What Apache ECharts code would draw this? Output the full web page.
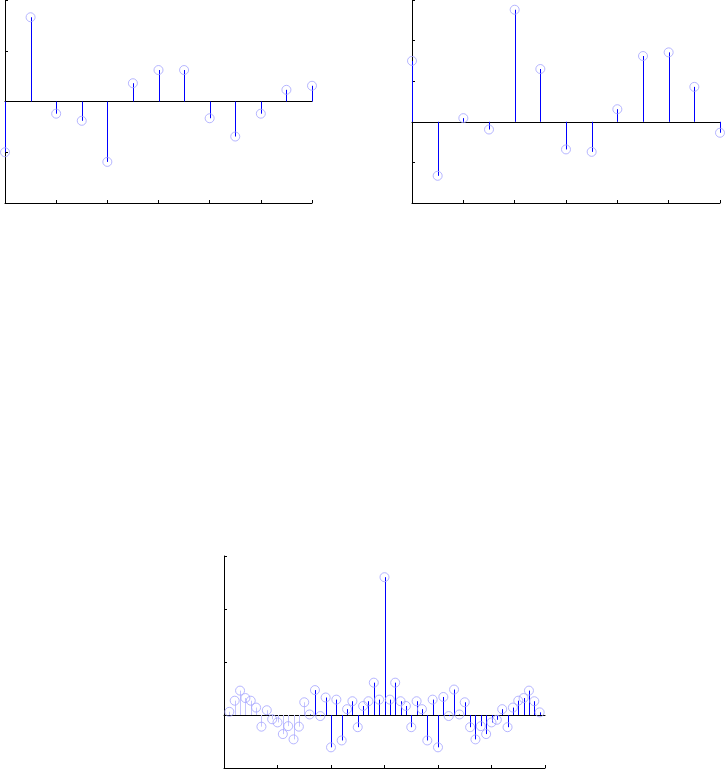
<!DOCTYPE html>
<html>
<head>
<meta charset="utf-8">
<script src="https://cdn.jsdelivr.net/npm/echarts@6/dist/echarts.min.js"></script>
<style>
  html, body { margin: 0; padding: 0; background: #fff; }
  #chart { width: 726px; height: 769px; }
</style>
</head>
<body>
<div id="chart"></div>
<script>
// top left: x[n]
var n1 = [0, 1, 2, 3, 4, 5, 6, 7, 8, 9, 10, 11, 12]
var xVals = [-1.0, 1.66, -0.24, -0.38, -1.19, 0.36, 0.62, 0.62, -0.33, -0.69, -0.24, 0.23, 0.31]

// top right: h[n]
var n2 = [0, 1, 2, 3, 4, 5, 6, 7, 8, 9, 10, 11, 12]
var hVals = [1.50, -1.33, 0.09, -0.19, 2.76, 1.30, -0.68, -0.74, 0.31, 1.62, 1.71, 0.86, -0.27]

// bottom: lags -29..29
var lags = [-29, -28, -27, -26, -25, -24, -23, -22, -21, -20, -19, -18, -17, -16, -15,
  -14, -13, -12, -11, -10, -9, -8, -7, -6, -5, -4, -3, -2, -1, 0,
  1, 2, 3, 4, 5, 6, 7, 8, 9, 10, 11, 12, 13, 14,
  15, 16, 17, 18, 19, 20, 21, 22, 23, 24, 25, 26, 27, 28, 29]
var rVals = [0.06, 0.27, 0.46, 0.32, 0.27, 0.14, -0.22, 0.09, -0.08, -0.14, -0.36, -0.21, -0.46, -0.22, 0.24,
  0.01, 0.47, -0.02, 0.33, -0.61, 0.29, -0.48, 0.11, 0.26, -0.23, 0.17, 0.26, 0.61, 0.29, 2.60,
  0.29, 0.61, 0.26, 0.17, -0.23, 0.26, 0.11, -0.48, 0.29, -0.61, 0.34, -0.02, 0.48, 0.01,
  0.24, -0.23, -0.46, -0.21, -0.36, -0.14, -0.09, 0.11, -0.23, 0.14, 0.27, 0.32, 0.46, 0.26, 0.05]

// axis ranges and tick steps
var xRange1 = [0, 12, 2]
var yRange1 = [-2, 2, 1]
var xRange2 = [0, 12, 2]
var yRange2 = [-2, 3, 1]
var xRange3 = [-30, 30, 10]
var yRange3 = [-1, 3, 1]

function pairs (xs, ys) {
  return xs.map(function (x, i) { return [x, ys[i]] })
}

var axisLineStyle = { color: '#000', width: 1 }

function bottomAxis (grid, r) {
  return {
    type: 'value', gridIndex: grid, min: r[0], max: r[1], interval: r[2],
    position: 'bottom',
    axisLine: { show: true, onZero: false, lineStyle: axisLineStyle },
    axisTick: { show: true, inside: true, length: 3, lineStyle: axisLineStyle },
    axisLabel: { show: false },
    splitLine: { show: false }
  }
}

// second x axis per grid, drawn on y = 0 as the base line
function zeroAxis (grid, r) {
  return {
    type: 'value', gridIndex: grid, min: r[0], max: r[1], interval: r[2],
    position: 'top',
    axisLine: { show: true, onZero: true, lineStyle: axisLineStyle },
    axisTick: { show: false },
    axisLabel: { show: false },
    splitLine: { show: false }
  }
}

function leftAxis (grid, r) {
  return {
    type: 'value', gridIndex: grid, min: r[0], max: r[1], interval: r[2],
    axisLine: { show: true, onZero: false, lineStyle: axisLineStyle },
    axisTick: { show: true, inside: true, length: 3, lineStyle: axisLineStyle },
    axisLabel: { show: false },
    splitLine: { show: false }
  }
}

function stems (grid, data, faintBelow) {
  return {
    type: 'custom',
    xAxisIndex: grid * 2,
    yAxisIndex: grid,
    z: 3,
    silent: true,
    data: data,
    renderItem: function (params, api) {
      var x = api.value(0)
      var top = api.coord([x, api.value(1)])
      var base = api.coord([x, 0])
      var px = Math.round(top[0]) + 0.5
      var faint = faintBelow !== undefined && x < faintBelow
      return {
        type: 'line',
        shape: { x1: px, y1: base[1], x2: px, y2: top[1] },
        style: { stroke: faint ? '#c4c4ff' : '#0000ff', lineWidth: 1 }
      }
    }
  }
}

function circles (grid, data) {
  return {
    type: 'scatter',
    xAxisIndex: grid * 2,
    yAxisIndex: grid,
    z: 4,
    silent: true,
    symbol: 'circle',
    symbolSize: 9,
    itemStyle: { color: 'rgba(0,0,0,0)', borderColor: '#a4a4ff', borderWidth: 1 },
    data: data
  }
}

var chart = echarts.init(document.getElementById('chart'))

var option = {
  animation: false,
  backgroundColor: '#fff',
  grid: [
    { left: 5, top: 0, width: 307, height: 203 },
    { left: 412, top: 0, width: 308, height: 203 },
    { left: 224, top: 556, width: 321, height: 212 }
  ],
  xAxis: [
    bottomAxis(0, xRange1), zeroAxis(0, xRange1),
    bottomAxis(1, xRange2), zeroAxis(1, xRange2),
    bottomAxis(2, xRange3), zeroAxis(2, xRange3)
  ],
  yAxis: [
    leftAxis(0, yRange1),
    leftAxis(1, yRange2),
    leftAxis(2, yRange3)
  ],
  series: [
    stems(0, pairs(n1, xVals)), circles(0, pairs(n1, xVals)),
    stems(1, pairs(n2, hVals)), circles(1, pairs(n2, hVals)),
    stems(2, pairs(lags, rVals), -14), circles(2, pairs(lags, rVals))
  ]
}

chart.setOption(option)
</script>
</body>
</html>
